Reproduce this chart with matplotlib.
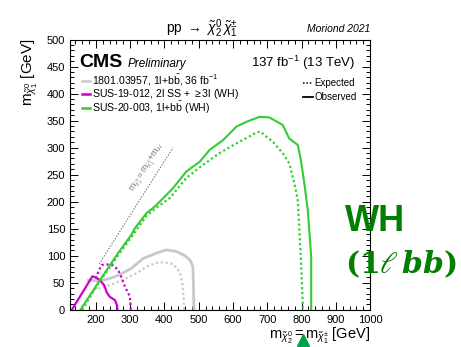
import numpy as np
import matplotlib; matplotlib.use("Agg")
import matplotlib.pyplot as plt
from matplotlib.ticker import MultipleLocator

plt.rcParams["font.family"] = ["Liberation Sans", "DejaVu Sans"]
plt.rcParams["mathtext.fontset"] = "custom"
plt.rcParams["mathtext.rm"] = "Liberation Sans"
plt.rcParams["mathtext.it"] = "Liberation Sans:italic"
plt.rcParams["mathtext.bf"] = "Liberation Sans:bold"

# 1801.03957 (1l+bb, 36 fb-1)
gray_obs_x = [178, 200, 222, 245, 270, 304, 338, 377, 406, 435, 460, 475, 483, 485, 486]
gray_obs_y = [55, 54, 55, 59, 65, 77, 95, 105, 111, 108, 100, 92, 80, 40, 0]
gray_exp_x = [193, 222, 250, 290, 320, 348, 375, 400, 425, 445, 452, 456, 457]
gray_exp_y = [37, 42, 48, 59, 68, 80, 87, 88, 85, 70, 50, 25, 0]

# SUS-19-012 (2l SS + >=3l, WH)
mag_obs_x = [130, 160, 190, 200, 212, 225, 232, 241, 256, 262, 263]
mag_obs_y = [0, 31, 62, 60, 55, 45, 32, 24, 18, 8, 0]
mag_exp_x = [200, 207, 217, 235, 251, 265, 275, 285, 299, 301, 302]
mag_exp_y = [58, 70, 83, 84, 82, 74, 60, 43, 25, 12, 0]

# SUS-20-003 (1l+bb, WH)
grn_obs_x = [155, 212, 265, 304, 314, 348, 372, 391, 425, 464, 503, 532, 571, 610,
             640, 677, 706, 745, 764, 789, 798, 808, 818, 823, 828, 828]
grn_obs_y = [0, 55, 105, 139, 151, 179, 191, 203, 225, 256, 274, 296, 314, 339,
             348, 357, 356, 342, 317, 305, 277, 234, 185, 142, 98, 0]
grn_exp_x = [160, 212, 265, 304, 348, 377, 416, 464, 512, 561, 610, 640, 668, 680,
             692, 716, 745, 764, 779, 789, 794, 799, 804]
grn_exp_y = [0, 53, 101, 135, 174, 189, 207, 244, 268, 290, 308, 318, 328, 330,
             323, 311, 290, 271, 234, 203, 142, 80, 0]

# kinematic line m_chi2 = m_chi1 + m_H
diag_x = [210, 425]
m_H = 125

GRAY = "#c8c8c8"
MAG = "#cc00cc"
GRN = "#33cc33"

fig = plt.figure(figsize=(4.61, 3.47), dpi=100)
ax = fig.add_axes([0.152, 0.107, 0.651, 0.779])

dot = (0, (1, 1.2))
ax.plot(gray_obs_x, gray_obs_y, color=GRAY, lw=2)
ax.plot(gray_exp_x, gray_exp_y, color=GRAY, lw=1.6, ls=dot)
ax.plot(mag_obs_x, mag_obs_y, color=MAG, lw=1.6)
ax.plot(mag_exp_x, mag_exp_y, color=MAG, lw=1.6, ls=dot)
ax.plot(grn_exp_x, grn_exp_y, color=GRN, lw=1.6, ls=dot)
ax.plot(grn_obs_x, grn_obs_y, color=GRN, lw=1.5)
ax.plot(diag_x, [x - m_H for x in diag_x], color="#666666", lw=0.7, ls=(0, (1.5, 1.5)))
ax.text(352, 262, r"$\mathrm{m}_{\tilde{\chi}^0_2} = \mathrm{m}_{\tilde{\chi}^0_1}\!+\!\mathrm{m}_H$",
        fontsize=6.5, color="#777777", rotation=57.5, ha="center", va="center")

ax.set_xlim(125, 1000)
ax.set_ylim(0, 500)
ax.xaxis.set_major_locator(MultipleLocator(100))
ax.xaxis.set_minor_locator(MultipleLocator(20))
ax.yaxis.set_major_locator(MultipleLocator(50))
ax.yaxis.set_minor_locator(MultipleLocator(10))
ax.tick_params(which="both", direction="in", top=True, right=True, labelsize=8, width=0.7)
ax.tick_params(which="major", length=6)
ax.tick_params(which="minor", length=3)
for s in ax.spines.values():
    s.set_linewidth(0.8)

ax.text(0.03, 0.9, "CMS", transform=ax.transAxes, fontsize=14, fontweight="bold")
ax.text(0.192, 0.9, "Preliminary", transform=ax.transAxes, fontsize=8.5, style="italic")
ax.text(0.95, 0.9, "137 fb$^{-1}$ (13 TeV)", transform=ax.transAxes, fontsize=9.5, ha="right")

leg = [(GRAY, r"1801.03957, 1l+b$\bar{\rm b}$, 36 fb$^{-1}$"),
       (MAG, r"SUS-19-012, 2l SS + $\geq$3l (WH)"),
       (GRN, r"SUS-20-003, 1l+b$\bar{\rm b}$ (WH)")]
for i, (c, lab) in enumerate(leg):
    y = 0.848 - i * 0.05
    ax.plot([0.04, 0.068], [y, y], color=c, lw=1.8, transform=ax.transAxes)
    ax.text(0.072, y, lab, transform=ax.transAxes, fontsize=7.6, va="center")
for i, (ls, lab) in enumerate([(dot, "Expected"), ("-", "Observed")]):
    y = 0.838 - i * 0.05
    ax.plot([0.775, 0.81], [y, y], color="black", lw=1.3 if ls == "-" else 1.1, ls=ls,
            transform=ax.transAxes)
    ax.text(0.813, y, lab, transform=ax.transAxes, fontsize=7, va="center")

fig.text(0.438, 0.916, r"pp $\rightarrow$ $\tilde{\chi}^0_2\,\tilde{\chi}^{\pm}_1$",
         fontsize=10, ha="center", va="center")
fig.text(0.803, 0.916, "Moriond 2021", fontsize=7.5, style="italic", ha="right", va="center")
fig.text(0.803, 0.004, r"$\mathrm{m}_{\tilde{\chi}^0_2} = \mathrm{m}_{\tilde{\chi}^{\pm}_1}$ [GeV]",
         fontsize=10.5, ha="right", va="bottom")
fig.text(0.065, 0.89, r"$\mathrm{m}_{\tilde{\chi}^0_1}$ [GeV]", fontsize=11, rotation=90,
         ha="center", va="top")

fig.text(0.748, 0.335, "WH", fontsize=26, fontweight="bold", color="#007f00")
fig.text(0.748, 0.212, r"$\mathbf{(1}\ell\,\mathbfit{bb}\mathbf{)}$", fontsize=21.5,
         color="#007f00", math_fontfamily="dejavuserif")
fig.lines.append(plt.Line2D([0.657], [0.02], marker="^", ms=9, color="#00a050",
                            transform=fig.transFigure))

fig.savefig("out.png", dpi=100)
